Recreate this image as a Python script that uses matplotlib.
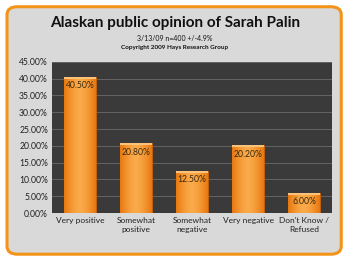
import matplotlib.pyplot as plt
from matplotlib.patches import FancyBboxPatch
import numpy as np

plt.rcParams["font.family"] = ["Lato", "DejaVu Sans"]

categories = ["Very positive", "Somewhat\npositive", "Somewhat\nnegative", "Very negative", "Don't Know /\nRefused"]
values = [40.5, 20.8, 12.5, 20.2, 6.0]
yticks = [0, 5, 10, 15, 20, 25, 30, 35, 40, 45]

fig = plt.figure(figsize=(3.5, 2.69), dpi=100)
fig.patch.set_facecolor("white")

# rounded orange frame
frame = FancyBboxPatch((0.02, 0.055), 0.955, 0.92, boxstyle="round,pad=0,rounding_size=0.03",
                       transform=fig.transFigure, facecolor="#d9d9d9", edgecolor="#f39419",
                       linewidth=2.2, zorder=-1)
fig.patches.append(frame)

ax = fig.add_axes([0.149, 0.208, 0.80, 0.562])
ax.set_zorder(2)
ax.set_facecolor("#3a3a3a")
x = np.arange(len(categories))
bars = ax.bar(x, values, width=0.57, color="#f08518", edgecolor="#c9620a", linewidth=0.6, zorder=3)

# horizontal gradient, lighter towards the middle
grad = np.abs(np.linspace(-1, 1, 64)) ** 1.5
grad = grad.reshape(1, -1)
from matplotlib.colors import LinearSegmentedColormap
cmap = LinearSegmentedColormap.from_list("bar", ["#fbab4a", "#e8780f"])
for b in bars:
    x0, w, h = b.get_x(), b.get_width(), b.get_height()
    im = ax.imshow(grad, cmap=cmap, extent=(x0, x0 + w, 0, h), aspect="auto", zorder=4)
    im.set_clip_path(b)
    # light top highlight
    ax.bar(x0 + w / 2, 0.6, bottom=h - 0.6, width=w, color="#fcc27a", linewidth=0, zorder=4.5)

for xi, v in zip(x, values):
    ax.text(xi, v - 1.3, f"{v:.2f}%", ha="center", va="top", fontsize=6.2, color="#3a2a10", zorder=5)

ax.set_ylim(0, 45)
ax.set_xlim(-0.5, len(categories) - 0.5)
ax.set_yticks(yticks)
ax.set_yticklabels([f"{t:.2f}%" for t in yticks], fontsize=6.2, color="#222222")
ax.set_xticks(x)
ax.set_xticklabels(categories, fontsize=6, color="#222222", linespacing=1.3)
ax.yaxis.grid(True, color="#6a6a6a", linewidth=0.6, zorder=0)
ax.set_axisbelow(True)
ax.tick_params(length=0, pad=3)
for s in ax.spines.values():
    s.set_visible(False)

fig.text(0.5, 0.915, "Alaskan public opinion of Sarah Palin", ha="center", va="center",
         fontsize=11, fontweight="bold", color="#111111")
fig.text(0.5, 0.858, "3/13/09 n=400 +/-4.9%", ha="center", va="center", fontsize=5, color="#111111")
fig.text(0.5, 0.825, "Copyright 2009 Hays Research Group", ha="center", va="center",
         fontsize=4.6, fontweight="bold", color="#111111")

fig.savefig("out.png", dpi=100)
